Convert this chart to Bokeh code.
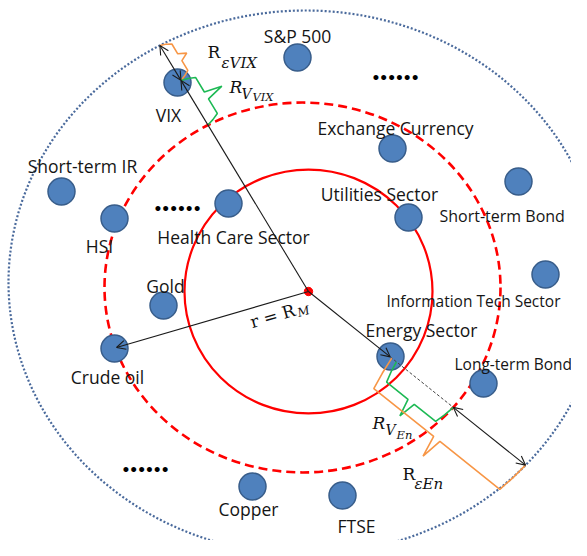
import numpy as np
from bokeh.plotting import figure
from bokeh.models import Range1d, Arrow, OpenHead
from bokeh.core.properties import value
from bokeh.embed import file_html
from bokeh.resources import INLINE

# ---------------- data (picture coordinates, y downward) ----------------
node_names = ["S&P 500", "VIX", "Exchange Currency", "Short-term IR", "HSI",
              "Health Care Sector", "Utilities Sector", "Short-term Bond", "Gold",
              "Information Tech Sector", "Energy Sector", "Long-term Bond",
              "Crude oil", "Copper", "FTSE"]
node_x = [297, 177, 392, 61, 114, 228, 408, 518, 163, 545, 390, 483, 114, 252, 342]
node_y = [57, 82, 148, 191, 218, 203, 217, 181, 305, 274, 356, 383, 348, 486, 495]

# label placement relative to node
label_dx = [0, -9, 3, 21, -15, 5, -29, -79, 2, -159, 31, -29, -7, -4, 14]
label_dy = [-22, 32, -21, -26, 27, 33, -24, 34, -20, 26, -27, -20, 28, 22, 30]
label_align = ["center", "center", "center", "center", "center", "center", "center",
               "left", "center", "left", "center", "left", "center", "center", "center"]
label_size = ["17.5px"] * 7 + ["16px", "17.5px", "15.5px", "17.5px", "15.5px"] + ["17.5px"] * 3

market_center = (308, 291)
ring_names = ["market", "volatility", "error"]
ring_cx = [308, 302, 305]
ring_cy = [291, 287, 282]
ring_a = [124, 198, 297]
ring_b = [122, 185, 272]

ray_nodes = ["VIX", "Energy Sector"]
ray_dx = [-148, 215]
ray_dy = [-245, 172]
radius_node = "Crude oil"

ellipsis_x = [395, 177, 145]
ellipsis_y = [67, 198, 459]

W, H = 571, 540

# ---------------- helpers ----------------
def Y(v):
    return -np.asarray(v, dtype=float)

def hit(dx, dy, k):
    cx0, cy0 = market_center
    a, b = ring_a[k], ring_b[k]
    ox, oy = cx0 - ring_cx[k], cy0 - ring_cy[k]
    A = (dx / a) ** 2 + (dy / b) ** 2
    B = 2 * (ox * dx / a ** 2 + oy * dy / b ** 2)
    C = (ox / a) ** 2 + (oy / b) ** 2 - 1
    return (-B + np.sqrt(B * B - 4 * A * C)) / (2 * A)

def pt(dx, dy, t):
    return np.array([market_center[0] + t * dx, market_center[1] + t * dy])

def brace(A, B, n, d, tip):
    u = (B - A) / np.linalg.norm(B - A)
    M = (A + B) / 2
    pts = [A, A + n * d * 0.5 + u * 2, A + n * d + u * 5, M - u * 4 + n * d,
           M + n * (d + tip), M + u * 4 + n * d, B + n * d - u * 5, B + n * d * 0.5 - u * 2, B]
    return [q[0] for q in pts], list(Y([q[1] for q in pts]))

# ---------------- figure ----------------
p = figure(width=W, height=H, x_range=Range1d(0, W), y_range=Range1d(-H, 0),
           output_backend="svg", toolbar_location=None, min_border=0)
p.axis.visible = False
p.grid.visible = False
p.outline_line_color = None
p.background_fill_color = "white"
p.border_fill_color = "white"

ring_style = [dict(line_color="#FF0000", line_width=2.2, line_dash="solid"),
              dict(line_color="#FF0000", line_width=2.6, line_dash="9 5"),
              dict(line_color="#4A6A9C", line_width=2.2, line_dash="2 2")]
for k in range(3):
    p.ellipse(x=[ring_cx[k]], y=Y([ring_cy[k]]), width=[2 * ring_a[k]], height=[2 * ring_b[k]],
              fill_color=None, **ring_style[k])

p.circle(x=node_x, y=Y(node_y), radius=13.5, fill_color="#4F81BD",
         line_color="#385D8A", line_width=1.5)

idx = {n: i for i, n in enumerate(node_names)}
C0 = np.array(market_center, dtype=float)

def arrow(P, Q, both=False, **kw):
    head = dict(size=9, line_color="#1A1A1A", line_width=1.1)
    p.add_layout(Arrow(end=OpenHead(**head), start=OpenHead(**head) if both else None,
                       x_start=P[0], y_start=-P[1], x_end=Q[0], y_end=-Q[1],
                       line_color="#1A1A1A", line_width=1.1, **kw))

orange, green = "#F79646", "#1DB954"
for j, name in enumerate(ray_nodes):
    dx, dy = ray_dx[j], ray_dy[j]
    N = np.array([node_x[idx[name]], node_y[idx[name]]]) - C0
    tn = (N[0] * dx + N[1] * dy) / (dx * dx + dy * dy)
    tv = hit(dx, dy, 1)
    te = hit(dx, dy, 2)
    Pn, Pv, Pe = pt(dx, dy, tn), pt(dx, dy, tv), pt(dx, dy, te)
    u = np.array([dx, dy]) / np.hypot(dx, dy)
    n = np.array([-u[1], u[0]])
    if j == 0:
        if n[0] < 0:
            n = -n
        arrow(C0, Pn)
        arrow(Pn, Pe, both=True)
        bx, by = brace(Pe, Pn, n, 11, 8)
        p.line(bx, by, line_color=orange, line_width=1.6)
        bx, by = brace(Pn, Pv, n, 14, 18)
        p.line(bx, by, line_color=green, line_width=1.6)
    else:
        if n[1] < 0:
            n = -n
        arrow(C0, Pn)
        p.line([Pn[0], Pv[0]], list(Y([Pn[1], Pv[1]])), line_color="#444444",
               line_width=1, line_dash="3 2")
        arrow(Pv, Pe, both=True)
        bx, by = brace(Pn + u * 8, Pv, n, 22, 18)
        p.line(bx, by, line_color=green, line_width=1.6)
        bx, by = brace(Pn + u * 2, Pe, n, 35, 22)
        p.line(bx, by, line_color=orange, line_width=1.6)

Ncrude = np.array([node_x[idx[radius_node]], node_y[idx[radius_node]]], dtype=float)
arrow(C0, Ncrude + np.array([2, -1]))

p.circle(x=[market_center[0]], y=Y([market_center[1]]), radius=4.2,
         fill_color="#FF0000", line_color="#FF0000")

# ---------------- labels ----------------
for i, name in enumerate(node_names):
    p.text(x=[node_x[i] + label_dx[i]], y=Y([node_y[i] + label_dy[i]]),
           text=[name], text_align=label_align[i], text_baseline="middle",
           text_font=value("Open Sans"), text_font_size=label_size[i], text_color="#151515")

p.text(x=ellipsis_x, y=Y(ellipsis_y), text=["......"] * 3, text_align="center",
       text_baseline="alphabetic", text_font=value("Lato"), text_font_style="bold",
       text_font_size="33px", text_color="#000000")

serif = value("DejaVu Serif")
def mtext(x, y, s, size, style="italic"):
    p.text(x=[x], y=Y([y]), text=[s], text_align="left", text_baseline="middle",
           text_font=serif, text_font_style=style, text_font_size=size, text_color="#111111")

mtext(207, 51, "R", "17px", "normal")
mtext(221, 62, "εVIX", "15px")
mtext(229, 86, "R", "17px")
mtext(241, 93, "V", "14px")
mtext(252, 96, "VIX", "11.5px")
mtext(372, 422, "R", "17px")
mtext(385, 429, "V", "14px")
mtext(396, 434, "En", "11.5px")
mtext(402, 473, "R", "17px", "normal")
mtext(414, 483, "εEn", "15px")

ang = np.deg2rad(16)
base = np.array([250.0, 322.0])
p.text(x=[base[0]], y=Y([base[1]]), text=["r = R"], angle=ang, text_align="left",
       text_baseline="middle", text_font=serif, text_font_size="17px", text_color="#111111")
along, down = 48, 4
sub = base + along * np.array([np.cos(ang), -np.sin(ang)]) + down * np.array([np.sin(ang), np.cos(ang)])
p.text(x=[sub[0]], y=Y([sub[1]]), text=["M"], angle=ang, text_align="left",
       text_baseline="middle", text_font=serif, text_font_style="italic",
       text_font_size="12px", text_color="#111111")

open("out.html", "w").write(file_html(p, INLINE))
